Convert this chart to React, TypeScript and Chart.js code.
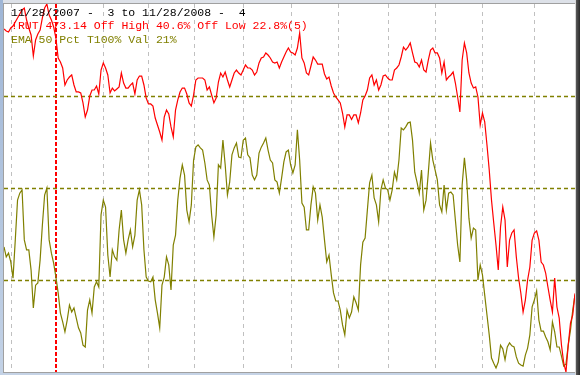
import React, { useEffect, useRef } from "react";
import { Chart, registerables } from "chart.js";

Chart.register(...registerables);

// $RUT daily closes, 11/28/2007 .. 11/28/2008 (one value per trading day)
const rutClose = [
  768.6, 766.3, 765.2, 769.7, 771.9, 776.4, 780.9, 785.3, 789.8, 792.0,
  778.6, 769.7, 761.9, 738.4, 756.3, 763.0, 767.4, 780.9, 792.0, 796.5,
  784.2, 778.6, 770.8, 758.5, 736.2, 731.7, 725.0, 706.0, 711.6, 714.9,
  717.2, 706.0, 698.2, 698.2, 697.1, 686.0, 670.2, 678.0, 693.7, 700.4,
  700.4, 704.9, 695.9, 722.7, 730.6, 725.0, 717.2, 697.1, 702.6, 699.3,
  701.5, 703.8, 719.4, 708.2, 702.6, 702.6, 705.9, 708.2, 695.9, 711.6,
  716.0, 716.0, 706.0, 691.5, 684.8, 684.8, 682.5, 669.1, 661.3, 653.5,
  644.5, 670.2, 678.0, 673.6, 659.1, 648.0, 678.0, 689.3, 698.2, 702.6,
  702.6, 695.9, 686.0, 682.5, 694.8, 711.6, 713.8, 713.8, 713.8, 711.6,
  700.4, 703.8, 694.8, 686.0, 691.5, 709.3, 719.4, 714.9, 720.5, 711.6,
  703.8, 711.6, 719.4, 722.7, 719.4, 717.2, 722.7, 728.3, 725.0, 725.0,
  722.7, 717.2, 720.5, 730.6, 736.2, 737.3, 741.8, 739.5, 736.2, 731.7,
  730.6, 731.7, 725.0, 731.7, 737.3, 742.9, 747.3, 742.9, 741.8, 739.5,
  747.3, 764.1, 736.2, 730.6, 719.4, 717.2, 727.2, 737.3, 733.9, 729.4,
  729.4, 729.4, 718.3, 712.7, 714.9, 704.9, 697.1, 692.6, 689.3, 686.0,
  674.7, 659.1, 672.5, 672.5, 667.5, 672.5, 672.5, 663.6, 674.7, 689.3,
  693.7, 700.4, 713.8, 717.2, 706.0, 711.6, 700.4, 706.0, 716.0, 717.2,
  713.8, 711.6, 711.6, 722.7, 725.0, 728.3, 737.3, 748.4, 745.1, 748.4,
  752.9, 741.8, 731.7, 730.6, 726.1, 733.9, 722.7, 720.5, 733.9, 745.1,
  747.3, 741.8, 741.8, 736.2, 719.4, 731.7, 711.6, 714.9, 717.2, 720.5,
  708.2, 692.6, 675.8, 733.9, 752.9, 741.8, 719.4, 708.2, 702.6, 703.8,
  692.6, 661.3, 674.7, 664.7, 638.9, 611.0, 577.5, 551.8, 527.2, 499.3,
  547.3, 569.7, 555.1, 502.6, 532.8, 540.6, 544.0, 513.8, 490.3, 473.6,
  452.3, 465.7, 488.1, 502.6, 532.8, 540.6, 542.9, 532.8, 508.2, 504.9,
  495.9, 480.3, 465.7, 452.3, 490.3, 457.9, 445.6, 415.5, 395.4, 385.3,
  415.5, 440.0, 449.0, 473.1,
];

// EMA 50 Pct indicator (0..100 %), same trading days
const emaPct = [
  34.0, 31.3, 32.3, 29.9, 25.5, 35.9, 46.7, 48.6, 49.5, 35.9,
  33.2, 33.2, 27.7, 17.4, 23.6, 24.2, 30.4, 39.9, 48.1, 50.0,
  35.9, 32.3, 29.6, 25.8, 21.5, 16.0, 13.6, 10.9, 14.1, 18.2,
  16.3, 17.4, 14.7, 12.0, 10.6, 7.3, 6.8, 16.8, 19.6, 16.0,
  23.1, 24.5, 23.1, 42.7, 46.7, 44.8, 31.8, 25.8, 33.2, 31.3,
  30.4, 38.6, 44.0, 35.9, 32.3, 35.9, 38.6, 34.0, 37.2, 46.7,
  49.5, 45.4, 33.2, 25.8, 24.7, 24.5, 25.8, 19.6, 16.0, 12.0,
  23.6, 25.8, 31.3, 29.1, 22.3, 34.5, 37.2, 46.7, 52.7, 56.3,
  53.5, 44.0, 40.8, 45.4, 57.6, 61.1, 61.7, 60.9, 60.3, 56.8,
  52.2, 50.8, 42.7, 36.7, 42.7, 56.3, 55.4, 63.0, 56.3, 48.1,
  51.6, 59.0, 60.9, 62.2, 58.4, 58.2, 63.0, 63.6, 59.0, 58.2,
  53.5, 52.2, 53.5, 59.5, 61.1, 62.2, 63.6, 60.3, 57.6, 56.8,
  52.2, 51.6, 48.6, 52.7, 57.1, 59.8, 60.3, 56.3, 54.1, 56.3,
  65.8, 57.6, 45.9, 44.8, 38.6, 38.6, 45.4, 50.3, 48.6, 41.3,
  45.4, 42.1, 35.9, 29.9, 31.8, 26.4, 21.5, 19.3, 19.3, 16.8,
  12.8, 10.1, 16.8, 14.7, 16.3, 20.4, 18.8, 16.8, 29.1, 35.3,
  36.4, 44.0, 51.4, 53.5, 47.3, 45.4, 40.8, 49.5, 52.2, 50.0,
  49.5, 46.7, 49.5, 54.3, 52.2, 57.6, 66.3, 65.8, 66.6, 67.7,
  67.9, 63.0, 54.3, 51.6, 48.6, 54.9, 44.0, 46.7, 54.1, 62.2,
  57.6, 54.9, 52.2, 45.4, 43.5, 50.8, 44.0, 48.6, 48.9, 48.1,
  41.3, 34.5, 29.9, 50.8, 58.2, 52.2, 41.8, 36.4, 39.1, 38.6,
  25.0, 29.1, 26.4, 20.9, 15.5, 10.1, 3.8, 2.4, 1.1, 2.7,
  7.3, 6.3, 3.3, 6.8, 7.9, 7.1, 6.8, 4.1, 2.4, 1.9,
  1.6, 4.6, 6.5, 10.1, 17.7, 19.6, 22.0, 14.1, 11.1, 11.1,
  9.5, 8.2, 6.0, 13.6, 10.9, 6.8, 6.8, 4.3, 1.6, 2.2,
  7.3, 11.4, 16.8, 21.0,
];

// trading-day index of the first session of each month (Dec 2007 .. Nov 2008)
const monthStartDays = [3, 23, 44, 64, 84, 106, 127, 148, 170, 191, 212, 235];
const yearStartDay = 23;
const pctGuideLevels = [25, 50, 75];
const rutLow = 385.3;
const rutHigh = 796.5;

const headerLines = [
  "11/28/2007 -  3 to 11/28/2008 -  4",
  "!RUT 473.14 Off High 40.6% Off Low 22.8%(5)",
  "EMA 50 Pct T100% Val 21%",
];
const headerColors = ["#000000", "#ff0000", "#808000"];

const RED = "#ff0000";
const OLIVE = "#808000";

const guidesPlugin = {
  id: "guides",
  beforeDraw(chart: any) {
    const { ctx, chartArea: a } = chart;
    ctx.save();
    ctx.fillStyle = "#ffffff";
    ctx.fillRect(a.left, a.top, a.right - a.left, a.bottom - a.top);
    ctx.restore();
  },
  beforeDatasetsDraw(chart: any) {
    const { ctx, chartArea: a, scales } = chart;
    const xs = scales.x;
    const ys = scales.y;
    ctx.save();
    // monthly vertical guides
    monthStartDays.forEach((d) => {
      const x = Math.round(xs.getPixelForValue(d));
      ctx.beginPath();
      if (d === yearStartDay) {
        ctx.strokeStyle = RED;
        ctx.lineWidth = 2;
        ctx.setLineDash([4, 2]);
        ctx.moveTo(x, a.top);
        ctx.lineTo(x, a.bottom);
      } else {
        ctx.strokeStyle = "#c0c0c0";
        ctx.lineWidth = 1;
        ctx.setLineDash([4, 4]);
        ctx.moveTo(x + 0.5, a.top);
        ctx.lineTo(x + 0.5, a.bottom);
      }
      ctx.stroke();
    });
    // horizontal pct guides
    pctGuideLevels.forEach((lv) => {
      const y = Math.round(ys.getPixelForValue(lv));
      ctx.beginPath();
      ctx.strokeStyle = OLIVE;
      ctx.lineWidth = 1.5;
      ctx.setLineDash([4, 3]);
      ctx.moveTo(a.left, y + 0.5);
      ctx.lineTo(a.right, y + 0.5);
      ctx.stroke();
    });
    ctx.restore();
  },
  afterDatasetsDraw(chart: any) {
    const { ctx, chartArea: a } = chart;
    ctx.save();
    ctx.font = '11.5px "Liberation Mono", "DejaVu Sans Mono", monospace';
    ctx.textBaseline = "middle";
    ctx.textAlign = "left";
    const offsets = [8.5, 22, 35.5];
    headerLines.forEach((t, i) => {
      ctx.fillStyle = headerColors[i];
      ctx.fillText(t, a.left + 7, a.top + offsets[i]);
    });
    ctx.restore();
  },
};

export default function App() {
  const ref = useRef<HTMLCanvasElement | null>(null);

  useEffect(() => {
    if (!ref.current) return;
    const chart = new Chart(ref.current, {
      type: "line",
      data: {
        datasets: [
          {
            label: "RUT",
            data: rutClose.map((v, i) => ({ x: i, y: v })),
            borderColor: RED,
            borderWidth: 1.2,
            pointRadius: 0,
            tension: 0,
            yAxisID: "y2",
          },
          {
            label: "EMA 50 Pct",
            data: emaPct.map((v, i) => ({ x: i, y: v })),
            borderColor: OLIVE,
            borderWidth: 1.2,
            pointRadius: 0,
            tension: 0,
            yAxisID: "y",
          },
        ],
      },
      options: {
        animation: false,
        responsive: false,
        devicePixelRatio: 1,
        layout: { padding: { left: 4, top: 4, right: 5, bottom: 3 } },
        plugins: { legend: { display: false }, tooltip: { enabled: false } },
        scales: {
          x: { type: "linear", min: 0, max: rutClose.length - 1, display: false },
          y: { type: "linear", min: 0, max: 100, display: false },
          y2: { type: "linear", min: rutLow, max: rutHigh, display: false },
        },
      },
      plugins: [guidesPlugin],
    });
    return () => chart.destroy();
  }, []);

  return (
    <div style={{ position: "fixed", left: 0, top: 0, width: 580, height: 375, background: "#c5d3e6", overflow: "hidden" }}>
      <div style={{ position: "absolute", left: 0, top: 0, width: 580, height: 3, background: "#dde1e8" }} />
      <div style={{ position: "absolute", left: 3, top: 3, width: 572, height: 1, background: "#a0a0a0" }} />
      <div style={{ position: "absolute", left: 0, top: 0, width: 3, height: 375, background: "linear-gradient(#9fb6d6, #c3d2e6)" }} />
      <div style={{ position: "absolute", left: 3, top: 3, width: 1, height: 370, background: "#a0a0a0" }} />
      <div style={{ position: "absolute", left: 575, top: 0, width: 1, height: 375, background: "#d6d6d6" }} />
      <div style={{ position: "absolute", left: 576, top: 0, width: 4, height: 375, background: "linear-gradient(90deg, #5a5a5a, #2a2a2a)" }} />
      <div style={{ position: "absolute", left: 3, top: 372, width: 572, height: 1, background: "#a0a0a0" }} />
      <canvas ref={ref} width={580} height={375} style={{ position: "absolute", left: 0, top: 0, display: "block" }} />
    </div>
  );
}
